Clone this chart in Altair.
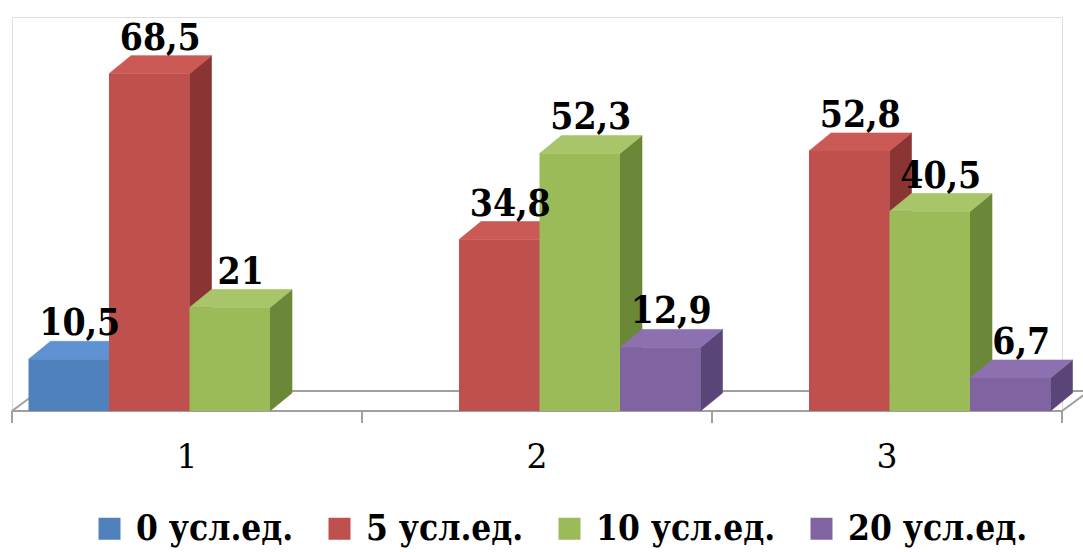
import altair as alt
import pandas as pd

# ---- data ----
groups = ["1", "2", "3"]
series = ["0 усл.ед.", "5 усл.ед.", "10 усл.ед.", "20 усл.ед."]
vals_0 = [10.5, None, None]
vals_5 = [68.5, 34.8, 52.8]
vals_10 = [21, 52.3, 40.5]
vals_20 = [None, 12.9, 6.7]
values_by_series = [vals_0, vals_5, vals_10, vals_20]

# ---- style ----
front_colors = ["#4F81BD", "#C0504D", "#9BBB59", "#8064A2"]
side_colors = ["#385D8A", "#8A3533", "#6B8838", "#5A4578"]
top_colors = ["#5E92D2", "#CB5955", "#A8C669", "#8C70B0"]
FONT = "DejaVu Serif"
FONT_COND = "DejaVu Serif Condensed"
FLOOR = "#A0A0A0"

rows = []
for si, (s, vals) in enumerate(zip(series, values_by_series)):
    for gi, (g, v) in enumerate(zip(groups, vals)):
        if v is None:
            continue
        rows.append({"group": g, "series": s, "gi": gi, "si": si,
                     "value": v, "key": f"{g}|{s}"})
df = pd.DataFrame(rows)
gdf = pd.DataFrame({"group": groups, "gi": list(range(len(groups)))})

W, H, YMAX = 1050, 394, 80
GROUP_W = W / len(groups)
BAR_W = 80.5
BAR_PAD = 16.5
DX, DY_PX = 22, 18
DYU = DY_PX * YMAX / H
FDX, FDY = 27, 20

xs = alt.Scale(domain=[0, W], nice=False, zero=False)
ys = alt.Scale(domain=[0, YMAX], nice=False, zero=True)

base = alt.Chart(df).transform_calculate(
    xl=f"{GROUP_W}*datum.gi + {BAR_PAD} + {BAR_W}*datum.si",
).transform_calculate(
    xr=f"datum.xl + {BAR_W}",
    zero="0",
)

bounds = pd.DataFrame({"b": [i * GROUP_W for i in range(len(groups) + 1)]})
bounds["z"] = 0.0
ends = pd.DataFrame({"a": [0.0], "b": [float(W)], "z": [0.0]})

floor_front = alt.Chart(ends).mark_rule(color=FLOOR, strokeWidth=2).encode(
    x=alt.X("a:Q", scale=xs, axis=None), x2="b:Q",
    y=alt.Y("z:Q", scale=ys, axis=None))

floor_back = alt.Chart(ends).mark_rule(
    color=FLOOR, strokeWidth=2, xOffset=FDX, x2Offset=FDX, yOffset=-FDY
).encode(x=alt.X("a:Q", scale=xs, axis=None), x2="b:Q",
         y=alt.Y("z:Q", scale=ys, axis=None))

floor_diag = alt.Chart(bounds).transform_filter(
    f"datum.b == 0 || datum.b == {W}"
).mark_rule(color=FLOOR, strokeWidth=2, x2Offset=FDX, y2Offset=-FDY).encode(
    x=alt.X("b:Q", scale=xs, axis=None), x2="b:Q",
    y=alt.Y("z:Q", scale=ys, axis=None), y2="z:Q")

ticks = alt.Chart(bounds).mark_rule(color=FLOOR, strokeWidth=2, y2Offset=12).encode(
    x=alt.X("b:Q", scale=xs, axis=None),
    y=alt.Y("z:Q", scale=ys, axis=None), y2="z:Q")

group_labels = alt.Chart(gdf).transform_calculate(
    gx=f"{GROUP_W}*(datum.gi + 0.5)", z="0"
).mark_text(font=FONT, fontSize=33, color="black", baseline="alphabetic",
            align="center", dy=57).encode(
    x=alt.X("gx:Q", scale=xs, axis=None),
    y=alt.Y("z:Q", scale=ys, axis=None),
    text="group:N")

side = base.transform_calculate(t="[0, 1]").transform_flatten(["t"]).transform_calculate(
    sx=f"datum.xr + {DX}*datum.t",
    sy=f"datum.value + {DYU}*datum.t",
    sy2=f"{DYU}*datum.t",
).mark_area(strokeWidth=0.6, orient="vertical").encode(
    x=alt.X("sx:Q", scale=xs, axis=None),
    y=alt.Y("sy:Q", scale=ys, axis=None), y2="sy2:Q",
    color=alt.Color("series:N", scale=alt.Scale(domain=series, range=side_colors), legend=None),
    stroke=alt.Stroke("series:N", scale=alt.Scale(domain=series, range=side_colors), legend=None),
    detail="key:N",
)

top = base.transform_calculate(t="[0, 1]").transform_flatten(["t"]).transform_calculate(
    tx=f"datum.xl + {DX}*datum.t",
    tx2=f"datum.xr + {DX}*datum.t",
    ty=f"datum.value + {DYU}*datum.t",
).mark_area(strokeWidth=0.6, orient="horizontal").encode(
    y=alt.Y("ty:Q", scale=ys, axis=None),
    x=alt.X("tx:Q", scale=xs, axis=None), x2="tx2:Q",
    color=alt.Color("series:N", scale=alt.Scale(domain=series, range=top_colors), legend=None),
    stroke=alt.Stroke("series:N", scale=alt.Scale(domain=series, range=top_colors), legend=None),
    detail="key:N",
)

front = base.mark_rect(strokeWidth=0).encode(
    x=alt.X("xl:Q", scale=xs, axis=None),
    x2="xr:Q",
    y=alt.Y("value:Q", scale=ys, axis=None), y2="zero:Q",
    color=alt.Color("series:N", scale=alt.Scale(domain=series, range=front_colors),
                    legend=alt.Legend(
                        orient="none", legendX=80, legendY=494, direction="horizontal",
                        title=None, symbolType="square", symbolSize=484,
                        symbolStrokeWidth=0, symbolOpacity=1,
                        labelFont=FONT_COND, labelFontSize=35, labelFontWeight="bold",
                        labelColor="black", labelLimit=400, columnPadding=28,
                        labelOffset=9, padding=0)),
)

labels = base.transform_calculate(
    lx=f"(datum.xl + datum.xr)/2 + {DX / 2}",
    ly=f"datum.value + {DYU}",
    txt="replace(toString(datum.value), '.', ',')",
).mark_text(font=FONT_COND, fontSize=37, fontWeight="bold", color="black",
            baseline="alphabetic", align="center", dy=-6).encode(
    x=alt.X("lx:Q", scale=xs, axis=None),
    y=alt.Y("ly:Q", scale=ys, axis=None),
    text="txt:N",
)

chart = alt.layer(floor_back, floor_diag, floor_front, ticks, group_labels,
                  side, top, front, labels).resolve_scale(
    color="independent", stroke="independent"
).properties(
    width=W, height=H,
    autosize=alt.AutoSizeParams(type="none"),
    padding={"left": 12, "top": 17, "right": 21, "bottom": 552 - 17 - H},
).configure_view(stroke=None).configure(background="white")

chart.save("out.html", embed_options={"renderer": "svg", "actions": False})
